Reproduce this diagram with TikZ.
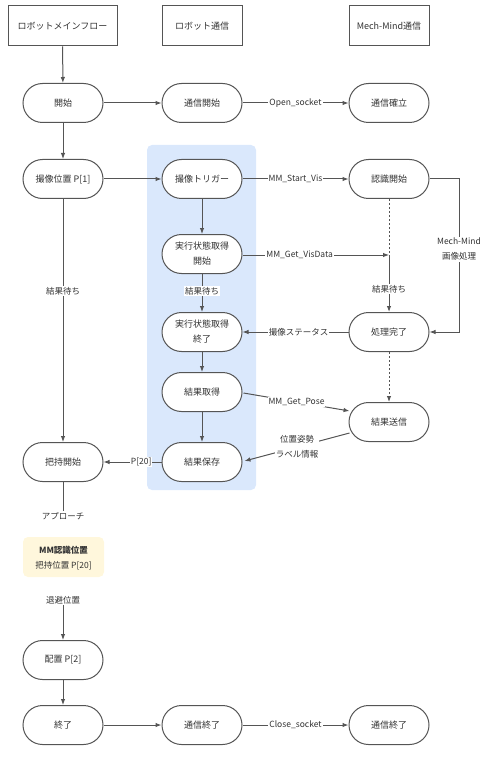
\documentclass[tikz,border=0pt]{standalone}
\usepackage{fontspec}
\setmainfont{Noto Sans CJK JP}
\usetikzlibrary{arrows.meta,calc}
\definecolor{ln}{HTML}{555555}
\definecolor{tx}{HTML}{333333}
\definecolor{lane}{HTML}{DAE8FC}
\definecolor{note}{HTML}{FFF7DC}
\tikzset{
  hdr/.style={draw=ln, line width=1pt, minimum width=80pt, minimum height=40pt, text=tx, font=\fontsize{9}{11}\selectfont},
  st/.style={draw=ln, line width=1pt, fill=white, rounded corners=19.5pt, minimum width=80pt, minimum height=39pt, text=tx, align=center, font=\fontsize{9}{15}\selectfont},
  conn/.style={draw=ln, line width=1pt, -{Latex[length=6pt,width=4.5pt]}},
  plain/.style={draw=ln, line width=1pt},
  dots/.style={draw=ln, line width=1pt, dash pattern=on 2pt off 2pt},
  lbl/.style={fill=white, inner sep=1pt, text=tx, align=center, font=\fontsize{8.5}{15}\selectfont},
  txt/.style={inner sep=1pt, text=tx, align=center, font=\fontsize{8.5}{14}\selectfont}
}
\begin{document}
\begin{tikzpicture}[x=1pt,y=-1pt]
\path[use as bounding box] (0,0) rectangle (491,759);
% lane
\fill[lane, rounded corners=5pt] (147,145) rectangle (256,490);
% headers
\node[hdr, minimum width=109pt] (h1) at (62.5,26) {ロボットメインフロー};
\node[hdr] (h2) at (202,26) {ロボット通信};
\node[hdr] (h3) at (389,26) {Mech-Mind通信};
% column 1
\node[st] (start) at (63,103) {開始};
\node[st] (cap) at (63,179) {撮像位置 P[1]};
\node[st] (grip) at (63,462) {把持開始};
\node[txt] (appr) at (63,516) {アプローチ};
\node[fill=note, rounded corners=5pt, minimum width=81pt, minimum height=40pt, inner sep=0pt] (mm) at (63.5,557) {};
\node[txt, font=\fontsize{8.5}{11}\selectfont\bfseries] (mm1) at (63.5,550) {MM認識位置};
\node[txt] (mm2) at (63.5,566) {把持位置 P[20]};
\node[txt] (esc) at (63,600) {退避位置};
\node[st] (place) at (63,660) {配置 P[2]};
\node[st] (end) at (63,725) {終了};
% column 2
\node[st] (cs) at (202,103) {通信開始};
\node[st] (trig) at (202,179) {撮像トリガー};
\node[st] (gs1) at (202,254) {実行状態取得\\開始};
\node[st] (gs2) at (202,332) {実行状態取得\\終了};
\node[st] (get) at (202,392) {結果取得};
\node[st] (save) at (202,462) {結果保存};
\node[st] (ce) at (202,725) {通信終了};
% column 3
\node[st] (est) at (389,103) {通信確立};
\node[st] (rec) at (389,179) {認識開始};
\node[st] (done) at (389,332) {処理完了};
\node[st] (send) at (389,422) {結果送信};
\node[st] (ce2) at (389,725) {通信終了};
\coordinate (j) at (389,255);
\coordinate (r1) at (459,179);
\coordinate (r2) at (459,332);
% connectors
\draw[conn] (h1) -- (start);
\draw[conn] (start) -- (cap);
\draw[conn] (start) -- (cs);
\draw[conn] (cs) -- node[lbl] {Open\_socket} (est);
\draw[conn] (cap) -- (trig);
\draw[conn] (trig) -- node[lbl] {MM\_Start\_Vis} (rec);
\draw[conn] (cap) -- node[lbl, pos=0.38] {結果待ち} (grip);
\draw[conn] (trig) -- (gs1);
\draw[conn] (gs1) -- node[lbl, pos=0.45] {結果待ち} (gs2);
\draw[dots] (rec) -- (j);
\draw[conn] (gs1.east |- j) -- node[lbl, pos=0.39] {MM\_Get\_VisData} (j);
\draw[conn] (j) -- node[lbl, pos=0.6] {結果待ち} (done);
\draw[conn] (rec) -- (r1) -- node[lbl, pos=0.46] {Mech-Mind\\画像処理} (r2) -- (done);
\draw[conn] (done) -- node[lbl, pos=0.47] {撮像ステータス} (gs2);
\draw[conn] (gs2) -- (get);
\draw[conn, dash pattern=on 2pt off 2pt] (done) -- (send);
\draw[conn] (get) -- (save);
\draw[conn] ($(get.east)+(1,1)$) -- node[lbl, pos=0.5] {MM\_Get\_Pose} ($(send.west)+(1,-11)$);
\draw[conn] ($(send.west)+(1,11)$) -- node[lbl, pos=0.5] {位置姿勢\\ラベル情報} ($(save.east)+(2,-1)$);
\draw[conn] (save) -- node[lbl, pos=0.35] {P[20]} (grip);
\draw[plain] (grip) -- (appr);
\draw[conn] (esc) -- (place);
\draw[conn] (place) -- (end);
\draw[conn] (end) -- (ce);
\draw[conn] (ce) -- node[lbl] {Close\_socket} (ce2);
\end{tikzpicture}
\end{document}
